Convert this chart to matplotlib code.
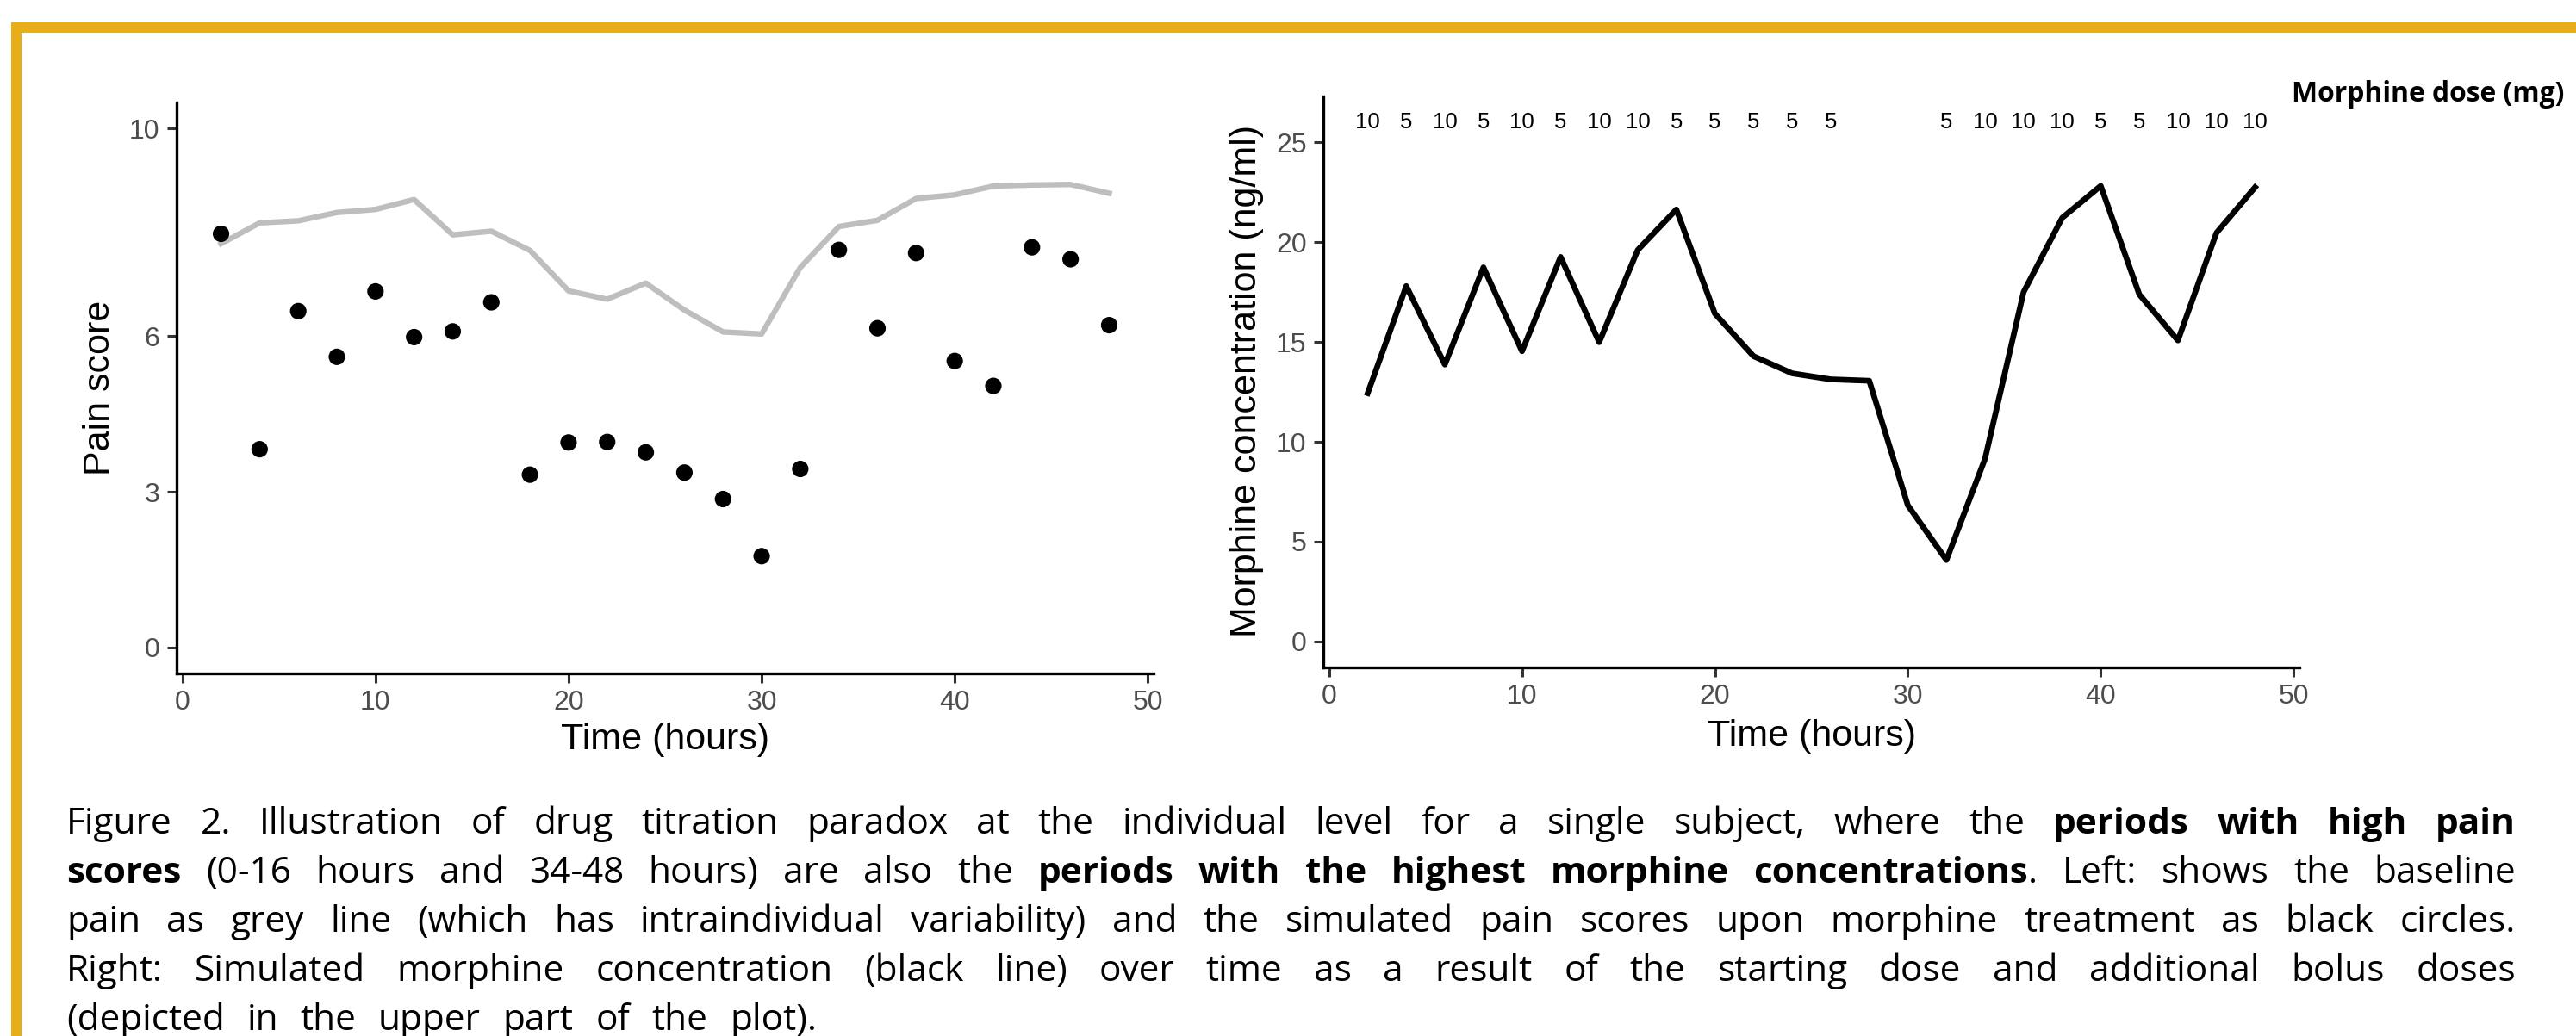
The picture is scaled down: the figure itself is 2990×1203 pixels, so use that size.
import matplotlib
matplotlib.use("Agg")
import matplotlib.pyplot as plt
from matplotlib.patches import Rectangle

# ---------------- data ----------------
time_h = [2, 4, 6, 8, 10, 12, 14, 16, 18, 20, 22, 24, 26, 28, 30, 32, 34, 36, 38, 40, 42, 44, 46, 48]
baseline_pain = [7.78, 8.18, 8.22, 8.38, 8.44, 8.63, 7.95, 8.02, 7.65, 6.87, 6.71, 7.02,
                 6.50, 6.08, 6.04, 7.32, 8.11, 8.23, 8.65, 8.72, 8.89, 8.91, 8.92, 8.75]
pain_score = [7.97, 3.82, 6.48, 5.60, 6.86, 5.98, 6.09, 6.65, 3.33, 3.95, 3.96, 3.76,
              3.37, 2.86, 1.76, 3.44, 7.66, 6.15, 7.60, 5.52, 5.04, 7.71, 7.48, 6.21]
morphine_conc = [12.44, 17.80, 13.87, 18.74, 14.54, 19.26, 14.99, 19.61, 21.64, 16.42, 14.29, 13.43,
                 13.13, 13.06, 6.82, 4.08, 9.15, 17.50, 21.22, 22.82, 17.38, 15.08, 20.47, 22.75]
dose_time = [2, 4, 6, 8, 10, 12, 14, 16, 18, 20, 22, 24, 26, 32, 34, 36, 38, 40, 42, 44, 46, 48]
dose_mg = ["10", "5", "10", "5", "10", "5", "10", "10", "5", "5", "5", "5", "5",
           "5", "10", "10", "10", "5", "5", "10", "10", "10"]
dose_y = 26
pain_ticks = [0, 3, 6, 10]
conc_ticks = [0, 5, 10, 15, 20, 25]
time_ticks = [0, 10, 20, 30, 40, 50]

caption_lines = [
    [("Figure 2. Illustration of drug titration paradox at the individual level for a single subject, where the ", False),
     ("periods with high pain", True)],
    [("scores", True), (" (0-16 hours and 34-48 hours) are also the ", False),
     ("periods with the highest morphine concentrations", True), (". Left: shows the baseline", False)],
    [("pain as grey line (which has intraindividual variability) and the simulated pain scores upon morphine treatment as black circles.", False)],
    [("Right: Simulated morphine concentration (black line) over time as a result of the starting dose and additional bolus doses", False)],
    [("(depicted in the upper part of the plot).", False)],
]

# ---------------- figure ----------------
W, H, DPI = 2990, 1203, 100
fig = plt.figure(figsize=(W / DPI, H / DPI), dpi=DPI)
fig.patch.set_facecolor("white")

GOLD = "#E8AE1A"
fig.patches.append(Rectangle((13 / W, 1 - 38 / H), 1 - 13 / W, 12 / H, transform=fig.transFigure,
                             facecolor=GOLD, edgecolor="none", zorder=0))
fig.patches.append(Rectangle((13 / W, 0), 12 / W, 1 - 26 / H, transform=fig.transFigure,
                             facecolor=GOLD, edgecolor="none", zorder=0))


def px_axes(l, t, r, b):
    return [l / W, 1 - b / H, (r - l) / W, (b - t) / H]


TICKFONT = "Liberation Sans"


def style(ax):
    for s in ["top", "right"]:
        ax.spines[s].set_visible(False)
    for s in ["left", "bottom"]:
        ax.spines[s].set_linewidth(2.4)
        ax.spines[s].set_color("black")
    ax.tick_params(axis="both", length=8, width=2.2, color="#333333",
                   labelcolor="#4D4D4D", labelsize=23, pad=6)
    for lab in ax.get_xticklabels() + ax.get_yticklabels():
        lab.set_fontfamily(TICKFONT)


ax1 = fig.add_axes(px_axes(205, 119, 1339, 782))
ax1.plot(time_h, baseline_pain, color="#BEBEBE", lw=4.6, zorder=2)
ax1.scatter(time_h, pain_score, s=190, color="black", zorder=3, edgecolors="none")
ax1.set_xlim(-0.3, 50.3)
ax1.set_ylim(-0.5, 10.5)
ax1.set_xticks(time_ticks)
ax1.set_yticks(pain_ticks)
style(ax1)
ax1.set_xlabel("Time (hours)", fontsize=31, fontfamily=TICKFONT, va="center")
ax1.set_ylabel("Pain score", fontsize=31, fontfamily=TICKFONT, va="center")
ax1.xaxis.set_label_coords(0.5, -0.116)
ax1.yaxis.set_label_coords(-0.0785, 0.5)

ax2 = fig.add_axes(px_axes(1536, 112, 2669, 775))
ax2.plot(time_h, morphine_conc, color="black", lw=4.8, zorder=2)
ax2.set_xlim(-0.3, 50.3)
ax2.set_ylim(-1.3, 27.3)
ax2.set_xticks(time_ticks)
ax2.set_yticks(conc_ticks)
style(ax2)
ax2.set_xlabel("Time (hours)", fontsize=31, fontfamily=TICKFONT, va="center")
ax2.set_ylabel("Morphine concentration (ng/ml)", fontsize=31, fontfamily=TICKFONT, va="center")
ax2.xaxis.set_label_coords(0.5, -0.121)
ax2.yaxis.set_label_coords(-0.0786, 0.502)
for t, d in zip(dose_time, dose_mg):
    ax2.text(t, dose_y, d, ha="center", va="center", fontsize=18.5, fontfamily=TICKFONT, color="black")

renderer = fig.canvas.get_renderer()
CAPFONT = "Open Sans"

# "Morphine dose (mg)" label fitted to its width in the reference
lab = fig.text(2660 / W, 1 - 118 / H, "Morphine dose (mg)", fontsize=24, fontweight="bold",
               fontfamily=CAPFONT, ha="left", va="baseline")
wl = lab.get_window_extent(renderer).width
lab.set_fontsize(24 * 317 / wl)


# ---------------- justified caption ----------------
def words_of(segments):
    words = [[]]
    for text, bold in segments:
        parts = text.split(" ")
        for i, p in enumerate(parts):
            if i > 0:
                words.append([])
            if p:
                words[-1].append((p, bold))
    return [w for w in words if w]


def text_width(s, bold, fs):
    t = fig.text(0, 0, s, fontsize=fs, fontfamily=CAPFONT, fontweight="bold" if bold else "normal")
    w = t.get_window_extent(renderer).width
    t.remove()
    return w


LEFT, RIGHT = 77, 2920
baselines = [968, 1025, 1082, 1139, 1196]
fs = 30.5
space_w = text_width("x x", False, fs) - text_width("xx", False, fs)
last_target = 871  # width of the unjustified last line in the reference

for li, (segs, yb) in enumerate(zip(caption_lines, baselines)):
    words = words_of(segs)
    widths = []
    for w in words:
        widths.append([text_width(p, b, fs) for p, b in w])
    total = sum(sum(ws) for ws in widths)
    if len(words) > 1:
        if li < len(caption_lines) - 1:
            gap = (RIGHT - LEFT - total) / (len(words) - 1)
        else:
            gap = max(space_w, (last_target - total) / (len(words) - 1))
    else:
        gap = space_w
    x = LEFT
    for w, ws in zip(words, widths):
        for (p, b), pw in zip(w, ws):
            fig.text(x / W, 1 - yb / H, p, fontsize=fs, fontfamily=CAPFONT,
                     fontweight="bold" if b else "normal", ha="left", va="baseline", color="black")
            x += pw
        x += gap

fig.savefig("out.png", dpi=DPI)
